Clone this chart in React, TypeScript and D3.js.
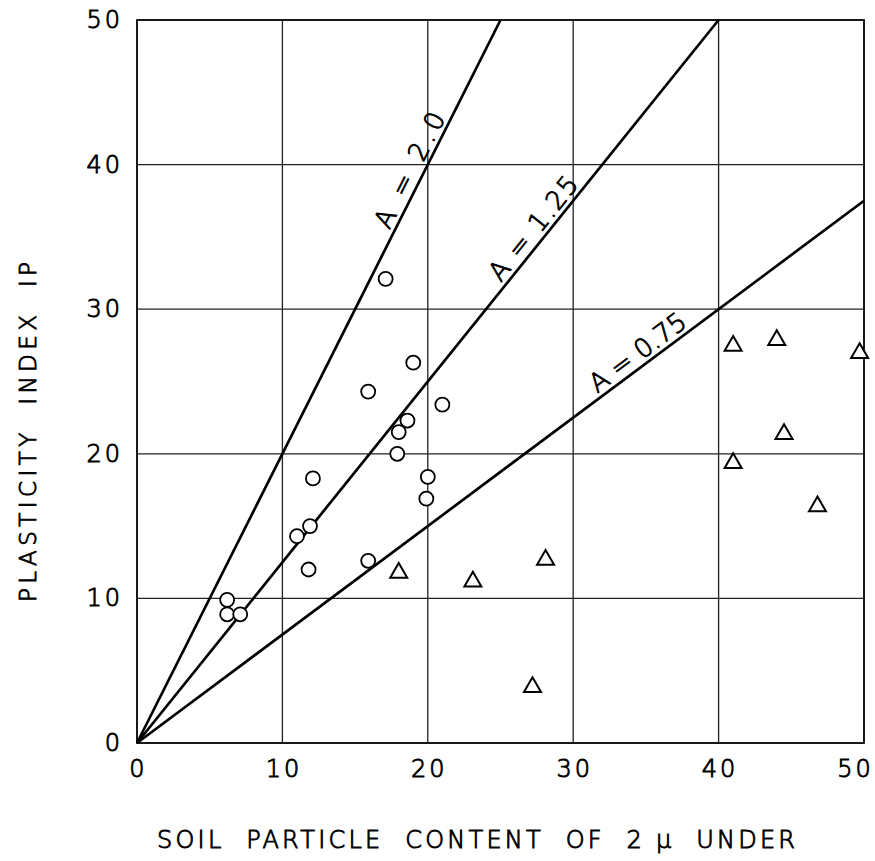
import React from "react";
import * as d3 from "d3";

// ---- data ----
const xTicks = [0, 10, 20, 30, 40, 50];
const yTicks = [0, 10, 20, 30, 40, 50];

// circles (soil particle content %, plasticity index)
const circleX = [6.2, 6.2, 7.1, 11.0, 11.9, 11.8, 12.1, 15.9, 15.9, 17.1, 17.9, 18.0, 18.6, 19.0, 19.9, 20.0, 21.0];
const circleY = [9.9, 8.9, 8.9, 14.3, 15.0, 12.0, 18.3, 12.6, 24.3, 32.1, 20.0, 21.5, 22.3, 26.3, 16.9, 18.4, 23.4];

// triangles
const triX = [18.0, 23.1, 28.1, 27.2, 41.0, 44.0, 49.7, 44.5, 41.0, 46.8];
const triY = [11.9, 11.3, 12.8, 4.0, 27.6, 28.0, 27.1, 21.5, 19.5, 16.5];

// activity lines IP = A * content
const activityA = [2.0, 1.25, 0.75];
const activityLabels = ["A = 2.0", "A = 1.25", "A = 0.75"];
const labelAt = [19.6, 28.0, 35.0];

const xTitle = "SOIL  PARTICLE  CONTENT  OF  2 \u03bc  UNDER";
const yTitle = "PLASTICITY  INDEX  IP";

const W = 875;
const H = 861;
const FONT = "'DejaVu Sans', 'Open Sans', sans-serif";
const TXT = { fontFamily: FONT, fontWeight: 200, fill: "#000", stroke: "#000", strokeWidth: 0.9 };

export default function App() {
  const x = d3.scaleLinear().domain([0, 50]).range([137, 864]);
  const y = d3.scaleLinear().domain([0, 50]).range([743, 20]);
  const [x0, x1] = x.range();
  const [y0, y1] = y.range();

  const line = d3
    .line<[number, number]>()
    .x((d) => x(d[0]))
    .y((d) => y(d[1]));

  const tri = d3.symbol().type(d3.symbolTriangle).size(125)();
  const labelLen = [126, 126, 114];

  return (
    <svg
      width={W}
      height={H}
      style={{ position: "absolute", left: 0, top: 0, background: "#fff" }}
    >
      {/* grid */}
      <g stroke="#222" strokeWidth={1.3}>
        {xTicks.map((t) => (
          <line key={"gx" + t} x1={x(t)} x2={x(t)} y1={y0} y2={y1} />
        ))}
        {yTicks.map((t) => (
          <line key={"gy" + t} x1={x0} x2={x1} y1={y(t)} y2={y(t)} />
        ))}
      </g>
      <rect
        x={x0}
        y={y1}
        width={x1 - x0}
        height={y0 - y1}
        fill="none"
        stroke="#111"
        strokeWidth={1.8}
      />

      {/* activity lines */}
      <g stroke="#000" strokeWidth={2.7} fill="none">
        {activityA.map((a) => {
          const xEnd = Math.min(50, 50 / a);
          return <path key={"l" + a} d={line([[0, 0], [xEnd, a * xEnd]]) || ""} />;
        })}
      </g>

      {/* line labels */}
      <g {...TXT} fontSize={26}>
        {activityA.map((a, i) => {
          const px = x(labelAt[i]);
          const py = y(a * labelAt[i]);
          const ang =
            (Math.atan2(y(0) - y(a * 10), x(10) - x(0)) * 180) / Math.PI;
          return (
            <text
              key={"t" + a}
              transform={`translate(${px},${py}) rotate(${-ang}) translate(0,-5)`}
              textAnchor="middle"
              textLength={labelLen[i]}
              lengthAdjust="spacing"
            >
              {activityLabels[i]}
            </text>
          );
        })}
      </g>

      {/* circles */}
      <g fill="#fff" stroke="#000" strokeWidth={1.8}>
        {circleX.map((cx, i) => (
          <circle key={"c" + i} cx={x(cx)} cy={y(circleY[i])} r={7} />
        ))}
      </g>

      {/* triangles */}
      <g fill="#fff" stroke="#000" strokeWidth={2} strokeLinejoin="miter">
        {triX.map((tx, i) => (
          <path
            key={"tr" + i}
            d={tri || ""}
            transform={`translate(${x(tx)},${y(triY[i]) + 2})`}
          />
        ))}
      </g>

      {/* tick labels */}
      <g {...TXT} fontSize={24} letterSpacing={3}>
        {yTicks.map((t) => (
          <text
            key={"yl" + t}
            x={x0 - 14}
            y={y(t)}
            textAnchor="end"
            dominantBaseline="central"
          >
            {t}
          </text>
        ))}
        {xTicks.map((t) => (
          <text
            key={"xl" + t}
            x={x(t) + 1.5 - (t === 50 ? 10 : 0)}
            y={y0 + 26}
            textAnchor="middle"
            dominantBaseline="central"
          >
            {t}
          </text>
        ))}
      </g>

      {/* axis titles */}
      <text
        {...TXT}
        x={476}
        y={848}
        fontSize={24}
        textAnchor="middle"
        textLength={638}
        lengthAdjust="spacing"
        style={{ whiteSpace: "pre" }}
      >
        {xTitle}
      </text>
      <text
        {...TXT}
        transform={`translate(36,432) rotate(-90)`}
        fontSize={23}
        textAnchor="middle"
        textLength={340}
        lengthAdjust="spacing"
        style={{ whiteSpace: "pre" }}
      >
        {yTitle}
      </text>
    </svg>
  );
}
